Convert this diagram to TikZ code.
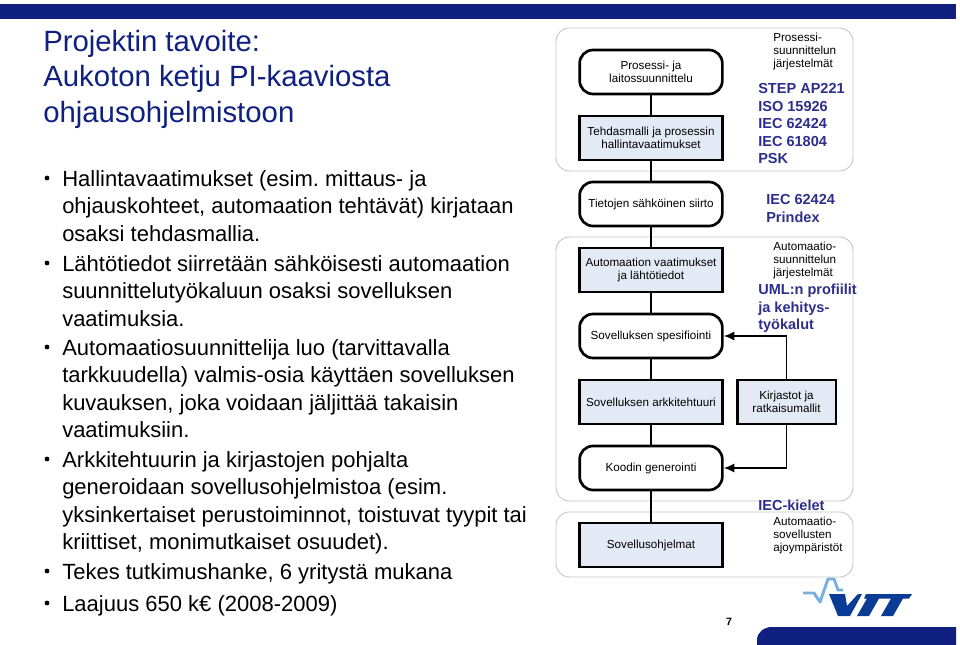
\documentclass[tikz,border=0pt]{standalone}
\usepackage{fontspec}
\setmainfont{Liberation Sans}
\usetikzlibrary{positioning, arrows.meta}
\frenchspacing
\definecolor{vttblue}{RGB}{15,32,128}
\definecolor{stdblue}{RGB}{46,46,140}
\definecolor{fillblue}{RGB}{228,234,245}
\definecolor{logodark}{RGB}{10,60,150}
\definecolor{logolight}{RGB}{120,175,225}
\tikzset{
    phase/.style={draw, line width=2pt, rounded corners=10pt, minimum width=107pt, minimum height=33pt, align=center, font=\fontsize{8.75}{9.75}\selectfont, inner sep=0pt},
    datum/.style={draw, line width=2pt, fill=fillblue, minimum width=107pt, minimum height=33pt, align=center, font=\fontsize{8.75}{9.75}\selectfont, inner sep=0pt},
    panel/.style={draw=black!22, line width=0.7pt, rounded corners=10pt, fill=white},
    link/.style={line width=2pt},
    feed/.style={line width=1.4pt, -{Latex[length=8pt,width=7pt]}},
    systext/.style={anchor=north west, align=left, inner sep=0pt, font=\fontsize{8.75}{9.75}\selectfont},
    stdtext/.style={anchor=north west, align=left, inner sep=0pt, text=stdblue, font=\bfseries\fontsize{10.9}{13.2}\selectfont},
    bullet/.style={anchor=north west, align=left, inner sep=0pt, font=\fontsize{16.5}{20.6}\selectfont},
    dot/.style={circle, fill=black, inner sep=0pt, minimum size=3.6pt}
}
\begin{document}
\begin{tikzpicture}[x=0.75pt, y=-0.75pt]
    \useasboundingbox (0, 0) rectangle (960, 645);
    % bars
    \fill[vttblue] (0, 4.5) rectangle (956, 19);
    \fill[vttblue] (757, 645) -- (757, 640) to[out=90, in=180] (772, 627) -- (956, 627) -- (956, 645) -- cycle;

    % title
    \node[anchor=north west, align=left, inner sep=0pt, text=vttblue, font=\fontsize{22}{26.6}\selectfont] (title) at (43, 30) {Projektin tavoite:\\Aukoton ketju PI-kaaviosta\\ohjausohjelmistoon};

    % bullets
    \node[bullet] (t1) at (62, 170) {Hallintavaatimukset (esim. mittaus- ja\\ohjauskohteet, automaation tehtävät) kirjataan\\osaksi tehdasmallia.};
    \node[bullet] (t2) at (62, 255) {Lähtötiedot siirretään sähköisesti automaation\\suunnittelutyökaluun osaksi sovelluksen\\vaatimuksia.};
    \node[bullet] (t3) at (62, 339) {Automaatiosuunnittelija luo (tarvittavalla\\tarkkuudella) valmis-osia käyttäen sovelluksen\\kuvauksen, joka voidaan jäljittää takaisin\\vaatimuksiin.};
    \node[bullet] (t4) at (62, 451) {Arkkitehtuurin ja kirjastojen pohjalta\\generoidaan sovellusohjelmistoa (esim.\\yksinkertaiset perustoiminnot, toistuvat tyypit tai\\kriittiset, monimutkaiset osuudet).};
    \node[bullet] (t5) at (62, 563) {Tekes tutkimushanke, 6 yritystä mukana};
    \node[bullet] (t6) at (62, 595) {Laajuus 650 k€ (2008-2009)};
    \node[dot] (d1) at (47, 178) {};
    \node[dot] (d2) at (47, 263) {};
    \node[dot] (d3) at (47, 347) {};
    \node[dot] (d4) at (47, 459) {};
    \node[dot] (d5) at (47, 571) {};
    \node[dot] (d6) at (47, 603) {};

    % panels
    \draw[panel] (556, 28) rectangle (853, 171);
    \draw[panel] (556, 237) rectangle (853, 501);
    \draw[panel] (556, 512) rectangle (853, 577);

    % flow
    \node[phase] (prosessi) at (651, 72) {Prosessi- ja\\laitossuunnittelu};
    \node[datum] (tehdas) at (651, 138) {Tehdasmalli ja prosessin\\hallintavaatimukset};
    \node[phase] (siirto) at (651, 204) {Tietojen sähköinen siirto};
    \node[datum] (vaatimukset) at (651, 270) {Automaation vaatimukset\\ja lähtötiedot};
    \node[phase] (spesifiointi) at (651, 336) {Sovelluksen spesifiointi};
    \node[datum] (arkkitehtuuri) at (651, 402) {Sovelluksen arkkitehtuuri};
    \node[phase] (generointi) at (651, 468) {Koodin generointi};
    \node[datum] (ohjelmat) at (651, 545) {Sovellusohjelmat};
    \node[datum, minimum width=74pt] (kirjastot) at (786.5, 402) {Kirjastot ja\\ratkaisumallit};

    \draw[link] (prosessi) -- (tehdas);
    \draw[link] (tehdas) -- (siirto);
    \draw[link] (siirto) -- (vaatimukset);
    \draw[link] (vaatimukset) -- (spesifiointi);
    \draw[link] (spesifiointi) -- (arkkitehtuuri);
    \draw[link] (arkkitehtuuri) -- (generointi);
    \draw[link] (generointi) -- (ohjelmat);
    \draw[feed] (kirjastot.north) |- (spesifiointi.east);
    \draw[feed] (kirjastot.south) |- (generointi.east);

    % labels
    \node[systext] (sys1) at (773, 33) {Prosessi-\\suunnittelun\\järjestelmät};
    \node[stdtext] (std1) at (758, 83) {STEP AP221\\ISO 15926\\IEC 62424\\IEC 61804\\PSK};
    \node[stdtext] (std2) at (766, 194) {IEC 62424\\Prindex};
    \node[systext] (sys2) at (773, 242) {Automaatio-\\suunnittelun\\järjestelmät};
    \node[stdtext] (std3) at (758, 284) {UML:n profiilit\\ja kehitys-\\työkalut};
    \node[stdtext] (std4) at (758, 499.5) {IEC-kielet};
    \node[systext] (sys3) at (773, 517) {Automaatio-\\sovellusten\\ajoympäristöt};
    \node[anchor=center, inner sep=0pt, font=\bfseries\fontsize{8}{9}\selectfont] (sivu) at (729, 622) {7};

    % logo
    \draw[logolight, line width=2.2pt, line join=round] (803, 593) -- (814, 593) -- (820, 602) -- (828, 579) -- (834, 579) -- (838, 590) -- (843, 590);
    \fill[logodark] (829, 594) -- (845, 594) -- (847, 606) -- (858, 594) -- (862, 594) -- (850, 616) -- (838, 616) -- cycle;
    \fill[logodark] (866, 594) -- (912, 594) -- (909, 598.5) -- (903, 598.5) -- (893, 616) -- (881, 616) -- (891, 598.5) -- (879, 598.5) -- (869, 616) -- (857, 616) -- (867, 598.5) -- (864, 598.5) -- cycle;
\end{tikzpicture}
\end{document}
